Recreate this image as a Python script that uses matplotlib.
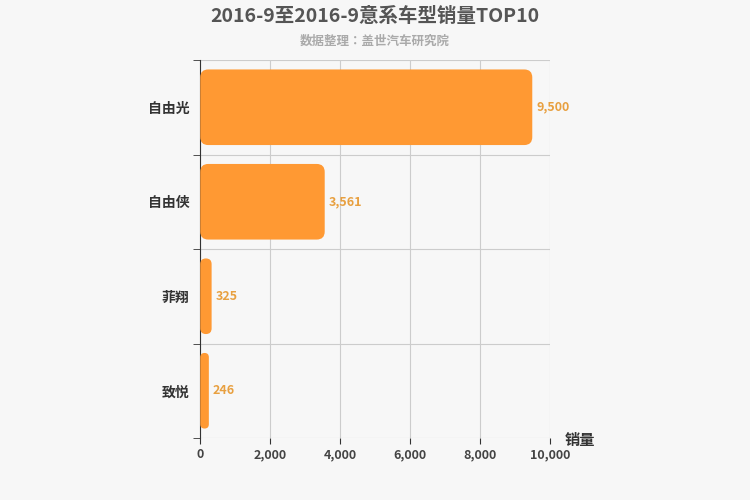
import matplotlib.pyplot as plt
from matplotlib.patches import FancyBboxPatch

plt.rcParams['font.family'] = ['Noto Sans CJK JP', 'Noto Sans CJK SC', 'Noto Sans CJK TC',
                               'Noto Sans CJK KR', 'DejaVu Sans']

models = ['自由光', '自由侠', '菲翔', '致悦']
sales = [9500, 3561, 325, 246]
xticks = [0, 2000, 4000, 6000, 8000, 10000]

fig = plt.figure(figsize=(7.5, 5), dpi=100, facecolor='#f7f7f7')
ax = fig.add_axes([0.267, 0.124, 0.466, 0.756])
ax.set_facecolor('#f7f7f7')
ax.set_xlim(0, 10000)
ax.set_ylim(len(models) - 0.5, -0.5)

# rounded bars: correct rounding for the axes aspect (data units per pixel)
aspect = (4 / 378) / (10000 / 350)
for i, (m, v) in enumerate(zip(models, sales)):
    r = min(229, v / 2)
    bar = FancyBboxPatch((0, i - 0.4), v, 0.8,
                         boxstyle='round,pad=0,rounding_size=%f' % r,
                         mutation_aspect=aspect, fc='#ff9933', ec='none', zorder=3)
    ax.add_patch(bar)
    ax.text(v + 120, i, format(v, ','), va='center', ha='left',
            color='#e8a040', fontsize=9, fontweight='bold', zorder=4)

ax.set_yticks(range(len(models)))
ax.set_yticklabels(models, fontsize=10, fontweight='bold', color='#333333')
ax.set_yticks([i + 0.5 for i in range(-1, len(models))], minor=True)
ax.tick_params(axis='y', which='major', length=0, pad=8)
ax.tick_params(axis='y', which='minor', length=5, color='#333333')
ax.set_xticks(xticks)
ax.set_xticklabels([format(x, ',') for x in xticks], fontsize=9, fontweight='bold', color='#444444')
ax.tick_params(axis='x', length=4, color='#333333')

ax.grid(axis='x', color='#cccccc', lw=0.8, zorder=0)
ax.grid(axis='y', which='minor', color='#cccccc', lw=0.8, zorder=0)
for s in ['top', 'right', 'bottom']:
    ax.spines[s].set_visible(False)
ax.spines['left'].set_color('#333333')

fig.text(0.5, 0.968, '2016-9至2016-9意系车型销量TOP10', ha='center', va='center',
         fontsize=14, fontweight='bold', color='#555555')
fig.text(0.5, 0.918, '数据整理：盖世汽车研究院', ha='center', va='center',
         fontsize=9, fontweight='bold', color='#aaaaaa')
fig.text(0.753, 0.12, '销量', ha='left', va='center', fontsize=11,
         fontweight='bold', color='#333333')

fig.savefig('out.png', dpi=100, facecolor=fig.get_facecolor())
